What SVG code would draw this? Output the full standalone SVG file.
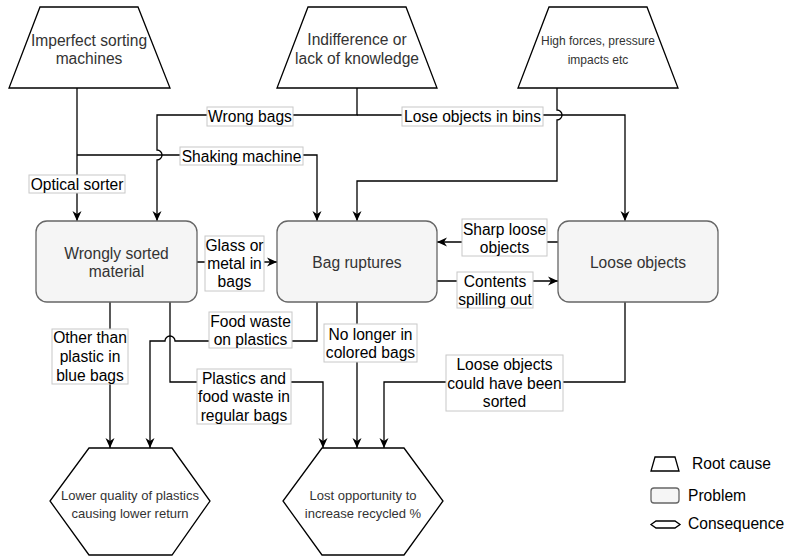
<svg xmlns="http://www.w3.org/2000/svg" width="787" height="556" viewBox="0 0 787 556">
  <defs>
    <marker id="arrow" markerUnits="userSpaceOnUse" markerWidth="11" markerHeight="10" refX="10" refY="5" orient="auto">
      <path d="M0,0.5 L10,5 L0,9.5 L3,5 Z" fill="#000"/>
    </marker>
    <style>
      text { font-family: "Liberation Sans", Arial, Helvetica, sans-serif; text-anchor: middle; }
      .root { fill: #fff; stroke: #000; stroke-width: 1.3; }
      .problem { fill: #f5f5f5; stroke: #666; stroke-width: 1.3; }
      .conseq { fill: #fff; stroke: #000; stroke-width: 1.3; }
      .node-text { font-size: 15.6px; fill: #333; }
      .small-text { font-size: 12px; fill: #333; }
      .hex-text { font-size: 13px; fill: #333; }
      .edge { fill: none; stroke: #000; stroke-width: 1.3; }
      .arrow { marker-end: url(#arrow); }
      .lbl-box { fill: #fff; stroke: #c8c8c8; stroke-width: 1; }
      .lbl { font-size: 15.6px; fill: #000; }
      .legend { font-size: 15.6px; fill: #000; text-anchor: start; }
    </style>
  </defs>

  <!-- connectors -->
  <g id="connectors">
    <!-- Imperfect sorting machines -> Wrongly sorted material -->
    <path class="edge arrow" d="M77,88 V221"/>
    <!-- branch: shaking machine -> Bag ruptures -->
    <path class="edge arrow" d="M77,155 H317 V221"/>
    <!-- Indifference -> Wrongly sorted (wrong bags), jump over shaking line -->
    <path class="edge arrow" d="M357,88 V115 H157 V150 A5,5 0 0,1 157,160 V221"/>
    <!-- Indifference -> Loose objects (lose objects in bins) -->
    <path class="edge arrow" d="M357,115 H625 V221"/>
    <!-- High forces -> Bag ruptures, jump over bins line -->
    <path class="edge arrow" d="M557,88 V110 A5,5 0 0,1 557,120 V181 H357 V221"/>
    <!-- Wrongly sorted -> Bag ruptures -->
    <path class="edge arrow" d="M197,262 H277"/>
    <!-- Loose objects -> Bag ruptures -->
    <path class="edge arrow" d="M558,242 H437"/>
    <!-- Bag ruptures -> Loose objects -->
    <path class="edge arrow" d="M437,281 H558"/>
    <!-- Wrongly sorted -> Lower quality -->
    <path class="edge arrow" d="M110,302 V448"/>
    <!-- Bag ruptures -> Lower quality (food waste), jump over vertical -->
    <path class="edge arrow" d="M317,302 V341 H175 A5,5 0 0,0 165,341 H150 V448"/>
    <!-- Wrongly sorted -> Lost opportunity -->
    <path class="edge arrow" d="M170,302 V382 H323 V448"/>
    <!-- Bag ruptures -> Lost opportunity -->
    <path class="edge arrow" d="M357,302 V448"/>
    <!-- Loose objects -> Lost opportunity -->
    <path class="edge arrow" d="M625,302 V382 H384 V448"/>

    <!-- edge labels -->
    <g id="lbl-wrong-bags">
      <rect class="lbl-box" x="207" y="107" width="86" height="19"/>
      <text class="lbl" x="250" y="122">Wrong bags</text>
    </g>
    <g id="lbl-lose-objects">
      <rect class="lbl-box" x="402" y="107" width="141" height="19"/>
      <text class="lbl" x="472.5" y="122">Lose objects in bins</text>
    </g>
    <g id="lbl-shaking">
      <rect class="lbl-box" x="180" y="147" width="123" height="18"/>
      <text class="lbl" x="241.5" y="161.5">Shaking machine</text>
    </g>
    <g id="lbl-optical">
      <rect class="lbl-box" x="29" y="175" width="96" height="18"/>
      <text class="lbl" x="77" y="189.5">Optical sorter</text>
    </g>
    <g id="lbl-glass">
      <rect class="lbl-box" x="205" y="236" width="59" height="55"/>
      <text class="lbl" x="234.5" y="250.5">Glass or</text>
      <text class="lbl" x="234.5" y="268.5">metal in</text>
      <text class="lbl" x="234.5" y="286.5">bags</text>
    </g>
    <g id="lbl-sharp">
      <rect class="lbl-box" x="462" y="219" width="85" height="37"/>
      <text class="lbl" x="504.5" y="234.5">Sharp loose</text>
      <text class="lbl" x="504.5" y="252.5">objects</text>
    </g>
    <g id="lbl-contents">
      <rect class="lbl-box" x="457" y="272" width="76" height="36"/>
      <text class="lbl" x="495" y="286.5">Contents</text>
      <text class="lbl" x="495" y="304.5">spilling out</text>
    </g>
    <g id="lbl-other">
      <rect class="lbl-box" x="52" y="329" width="76" height="55"/>
      <text class="lbl" x="90" y="343">Other than</text>
      <text class="lbl" x="90" y="362">plastic in</text>
      <text class="lbl" x="90" y="380.5">blue bags</text>
    </g>
    <g id="lbl-food">
      <rect class="lbl-box" x="209" y="312" width="83" height="36"/>
      <text class="lbl" x="250.5" y="326.5">Food waste</text>
      <text class="lbl" x="250.5" y="344.5">on plastics</text>
    </g>
    <g id="lbl-plastics">
      <rect class="lbl-box" x="197" y="369" width="94" height="55"/>
      <text class="lbl" x="244" y="383.5">Plastics and</text>
      <text class="lbl" x="244" y="402">food waste in</text>
      <text class="lbl" x="244" y="420.5">regular bags</text>
    </g>
    <g id="lbl-nolonger">
      <rect class="lbl-box" x="324" y="324" width="93" height="38"/>
      <text class="lbl" x="370.5" y="339.5">No longer in</text>
      <text class="lbl" x="370.5" y="358">colored bags</text>
    </g>
    <g id="lbl-could">
      <rect class="lbl-box" x="446" y="355" width="117" height="56"/>
      <text class="lbl" x="504.5" y="370">Loose objects</text>
      <text class="lbl" x="504.5" y="388.5">could have been</text>
      <text class="lbl" x="504.5" y="407">sorted</text>
    </g>
  </g>

  <!-- root causes -->
  <g id="imperfect-sorting">
    <polygon class="root" points="40,7 138,7 170,88 9,88"/>
    <text class="node-text" x="89" y="45.5">Imperfect sorting</text>
    <text class="node-text" x="89" y="64">machines</text>
  </g>
  <g id="indifference">
    <polygon class="root" points="308,7 406,7 437,88 277,88"/>
    <text class="node-text" x="357" y="44.5">Indifference or</text>
    <text class="node-text" x="357" y="63.5">lack of knowledge</text>
  </g>
  <g id="high-forces">
    <polygon class="root" points="549,7 647,7 678,88 518,88"/>
    <text class="small-text" x="598" y="45">High forces, pressure</text>
    <text class="small-text" x="598" y="64">impacts etc</text>
  </g>

  <!-- problems -->
  <g id="wrongly-sorted">
    <rect class="problem" x="36" y="221" width="161" height="81" rx="11" ry="11"/>
    <text class="node-text" x="116.5" y="258.5">Wrongly sorted</text>
    <text class="node-text" x="116.5" y="276.5">material</text>
  </g>
  <g id="bag-ruptures">
    <rect class="problem" x="277" y="221" width="160" height="81" rx="11" ry="11"/>
    <text class="node-text" x="357" y="267.5">Bag ruptures</text>
  </g>
  <g id="loose-objects">
    <rect class="problem" x="558" y="221" width="160" height="81" rx="11" ry="11"/>
    <text class="node-text" x="638" y="267.5">Loose objects</text>
  </g>

  <!-- consequences -->
  <g id="lower-quality">
    <polygon class="conseq" points="89,448 172,448 210,501 172,555 89,555 50,501"/>
    <text class="hex-text" x="130" y="499.5">Lower quality of plastics</text>
    <text class="hex-text" x="130" y="517.5">causing lower return</text>
  </g>
  <g id="lost-opportunity">
    <polygon class="conseq" points="322,448 404,448 443,501 404,555 322,555 283,501"/>
    <text class="hex-text" x="363" y="499.5">Lost opportunity to</text>
    <text class="hex-text" x="363" y="517.5">increase recycled %</text>
  </g>

  <!-- legend -->
  <g id="legend">
    <polygon class="root" points="655,457 675,457 679,471 651,471" stroke-width="1"/>
    <text class="legend" x="692" y="469">Root cause</text>
    <rect class="problem" x="651" y="488" width="28" height="15" rx="3" ry="3" stroke-width="1"/>
    <text class="legend" x="688" y="501">Problem</text>
    <polygon class="conseq" points="651,524.5 656,521 675,521 680,524.5 675,528 656,528" stroke-width="1"/>
    <text class="legend" x="688" y="529">Consequence</text>
  </g>
</svg>
